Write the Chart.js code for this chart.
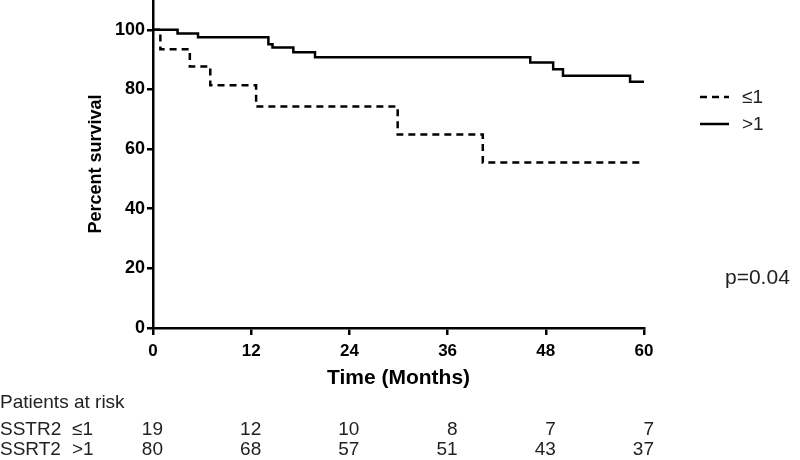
<!DOCTYPE html>
<html>
<head>
<meta charset="utf-8">
<script src="https://cdn.jsdelivr.net/npm/chart.js@4/dist/chart.umd.min.js"></script>
<style>
  html, body { margin: 0; padding: 0; background: #fff; }
  #wrap { width: 800px; height: 460px; position: relative; }
</style>
</head>
<body>
<div id="wrap"><canvas id="km" width="800" height="460"></canvas></div>
<script>
// survival curves (months, percent surviving)
var lowTimes = [0, 0.9, 4.5, 7, 12.6, 29.9, 40.3, 59.5];
var lowSurv  = [100, 93.5, 87.7, 81.4, 74.3, 64.9, 55.5, 55.5];
var highTimes = [0, 3, 5.5, 14.1, 14.6, 17.15, 19.8, 46.1, 48.9, 50.1, 58.3, 60];
var highSurv  = [100, 98.75, 97.5, 95.2, 94.1, 92.5, 90.8, 89.0, 86.8, 84.6, 82.6, 82.6];

// patients at risk table
var tickMonths = [0, 12, 24, 36, 48, 60];
var riskLow  = [19, 12, 10, 8, 7, 7];
var riskHigh = [80, 68, 57, 51, 43, 37];
var groupLabels = ["\u22641", ">1"];
var pValue = "p=0.04";

function toPoints(xs, ys) {
  var pts = [];
  for (var i = 0; i < xs.length; i++) pts.push({x: xs[i], y: ys[i]});
  return pts;
}

var FONT = "'Liberation Sans', Arial, sans-serif";

// legend, p value and the at-risk table
var extrasPlugin = {
  id: "extras",
  afterDraw: function(chart) {
    var ctx = chart.ctx;
    var xs = chart.scales.x;
    ctx.save();

    // legend
    var ds = chart.data.datasets;
    var legY = [97, 124];
    for (var i = 0; i < ds.length; i++) {
      ctx.beginPath();
      ctx.lineWidth = ds[i].borderWidth;
      ctx.strokeStyle = ds[i].borderColor;
      ctx.setLineDash(ds[i].borderDash || []);
      ctx.moveTo(700, legY[i]);
      ctx.lineTo(729, legY[i]);
      ctx.stroke();
      ctx.setLineDash([]);
      ctx.fillStyle = "#222";
      ctx.font = "19px " + FONT;
      ctx.textAlign = "left";
      ctx.textBaseline = "middle";
      ctx.fillText(ds[i].label, 742, legY[i] + 1);
    }

    // p value
    ctx.font = "21px " + FONT;
    ctx.fillText(pValue, 725, 278);

    // at-risk table
    ctx.font = "19px " + FONT;
    ctx.fillText("Patients at risk", 0, 403);
    ctx.fillText("SSTR2", 0, 430);
    ctx.fillText("SSRT2", 0, 450);
    ctx.fillText(groupLabels[0], 72, 430);
    ctx.fillText(groupLabels[1], 72, 450);
    ctx.textAlign = "right";
    for (var k = 0; k < tickMonths.length; k++) {
      var px = xs.getPixelForValue(tickMonths[k]) + 10;
      ctx.fillText(String(riskLow[k]), px, 430);
      ctx.fillText(String(riskHigh[k]), px, 450);
    }
    ctx.restore();
  }
};

var ctxKm = document.getElementById("km").getContext("2d");
var kmChart = new Chart(ctxKm, {
  type: "line",
  data: {
    datasets: [
      {
        label: groupLabels[0],
        data: toPoints(lowTimes, lowSurv),
        borderColor: "#000",
        borderWidth: 2.5,
        borderDash: [7, 5],
        stepped: true,
        pointRadius: 0,
        fill: false
      },
      {
        label: groupLabels[1],
        data: toPoints(highTimes, highSurv),
        borderColor: "#000",
        borderWidth: 2.5,
        stepped: true,
        pointRadius: 0,
        fill: false
      }
    ]
  },
  options: {
    responsive: false,
    animation: false,
    layout: { padding: { left: 0, right: 156, top: 0, bottom: 0 } },
    plugins: {
      legend: { display: false },
      tooltip: { enabled: false }
    },
    scales: {
      x: {
        type: "linear",
        min: 0,
        max: 60,
        afterFit: function(s) { s.height = 132; },
        ticks: {
          stepSize: 12,
          color: "#000",
          padding: 6,
          maxRotation: 0,
          font: { family: FONT, size: 17, weight: "bold" }
        },
        grid: { drawOnChartArea: false, color: "#000", tickLength: 7, lineWidth: 2.5 },
        border: { color: "#000", width: 2.5 },
        title: {
          display: true,
          text: "Time (Months)",
          color: "#000",
          font: { family: FONT, size: 21, weight: "bold" },
          padding: { top: 0, bottom: 69 }
        }
      },
      y: {
        min: 0,
        max: 110,
        afterFit: function(s) {
          s.width = 153;
          s.paddingTop = 0;
          s.paddingBottom = 0;
        },
        afterBuildTicks: function(s) {
          s.ticks = s.ticks.filter(function(t) { return t.value <= 100; });
        },
        ticks: {
          stepSize: 20,
          color: "#000",
          padding: 2,
          font: { family: FONT, size: 18, weight: "bold" }
        },
        grid: { drawOnChartArea: false, color: "#000", tickLength: 6, lineWidth: 2.5 },
        border: { color: "#000", width: 2.5 },
        title: {
          display: true,
          text: "Percent survival",
          color: "#000",
          font: { family: FONT, size: 18, weight: "bold" },
          padding: { top: 85, bottom: 0 }
        }
      }
    }
  },
  plugins: [extrasPlugin]
});
</script>
</body>
</html>
